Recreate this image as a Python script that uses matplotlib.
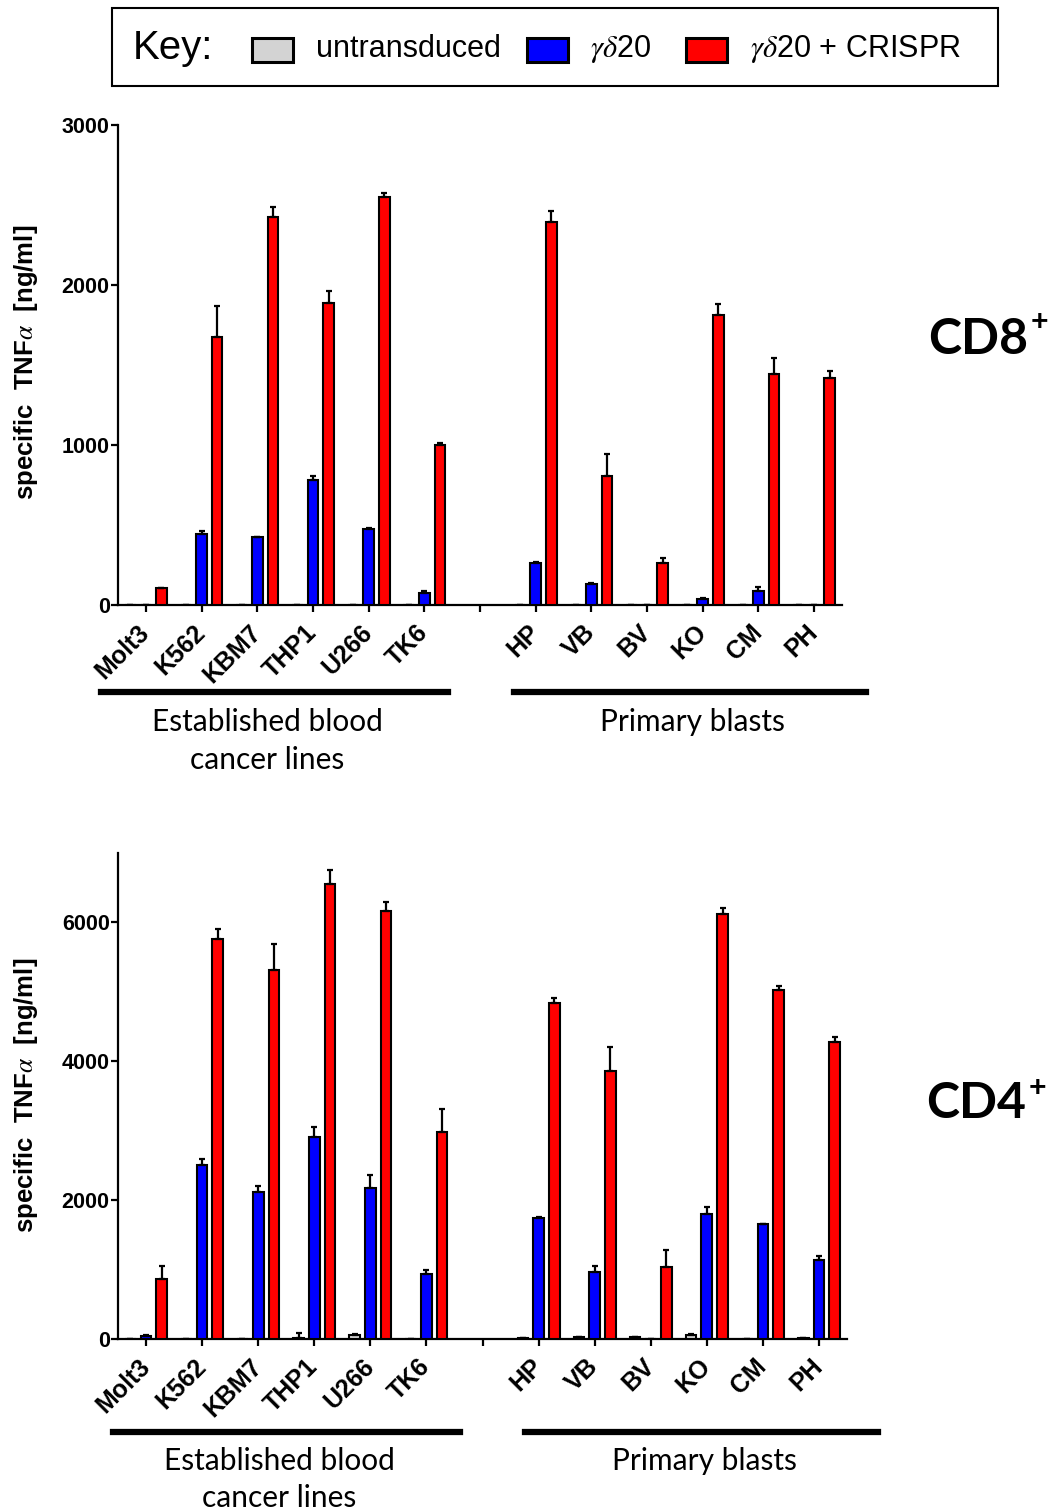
import numpy as np
import matplotlib
matplotlib.use('Agg')
import matplotlib.pyplot as plt
from matplotlib.patches import Rectangle
from matplotlib.lines import Line2D

plt.rcParams['mathtext.fontset'] = 'stix'

# ---------------- data ----------------
established = ['Molt3', 'K562', 'KBM7', 'THP1', 'U266', 'TK6']
primary = ['HP', 'VB', 'BV', 'KO', 'CM', 'PH']
series_names = ['untransduced', r'$\gamma\delta$20', r'$\gamma\delta$20 + CRISPR']
colors = ['#d3d3d3', '#0000ff', '#ff0000']

# CD8+ (specific TNFa, ng/ml)
cd8_untr = [0, 0, 0, 0, 0, 0, 0, 0, 0, 0, 0, 0]
cd8_untr_err = [0, 0, 0, 0, 0, 0, 0, 0, 0, 0, 0, 0]
cd8_gd20 = [0, 443, 422, 780, 475, 74, 265, 131, 0, 35, 88, 0]
cd8_gd20_err = [0, 20, 5, 25, 5, 15, 6, 5, 0, 6, 22, 0]
cd8_crispr = [105, 1677, 2426, 1888, 2553, 998, 2396, 808, 265, 1812, 1442, 1417]
cd8_crispr_err = [3, 190, 63, 72, 25, 15, 69, 136, 31, 69, 104, 48]

# CD4+
cd4_untr = [5, 5, 5, 20, 58, 5, 15, 29, 29, 62, 5, 10]
cd4_untr_err = [0, 0, 0, 60, 10, 0, 0, 0, 0, 10, 0, 0]
cd4_gd20 = [50, 2499, 2115, 2906, 2168, 930, 1741, 969, 5, 1799, 1655, 1137]
cd4_gd20_err = [10, 96, 86, 149, 187, 58, 19, 86, 0, 105, 0, 52]
cd4_crispr = [858, 5760, 5319, 6556, 6168, 2978, 4834, 3861, 1041, 6115, 5022, 4283]
cd4_crispr_err = [190, 144, 369, 202, 124, 336, 72, 350, 240, 86, 57, 72]

W, H = 1062, 1512
fig = plt.figure(figsize=(W / 100, H / 100), dpi=100)

def fx(px):
    return px / W

def fy(py):
    return 1 - py / H

labels = established + primary
pos = np.r_[np.arange(len(established)), np.arange(len(established) + 1, len(labels) + 1)]
all_ticks = np.arange(len(labels) + 1)
tick_labels = established + [''] + primary

TICKFONT = 'Liberation Sans'
offsets = [-0.28, 0.0, 0.28]
bw = 0.19

def draw_panel(rect, data, errs, ymax, yticks):
    ax = fig.add_axes(rect)
    for k in range(3):
        ax.bar(pos + offsets[k], data[k], width=bw, color=colors[k],
               edgecolor='black', linewidth=1.5,
               yerr=[np.zeros(len(errs[k])), errs[k]],
               error_kw=dict(elinewidth=1.6, capsize=2.5, capthick=1.6, ecolor='black'),
               zorder=3)
    ax.set_xlim(-0.5, len(labels) + 0.5)
    ax.set_ylim(0, ymax)
    ax.set_yticks(yticks)
    ax.set_yticklabels([str(v) for v in yticks], fontsize=15.5, fontweight='bold', family=TICKFONT)
    ax.set_xticks(all_ticks)
    ax.set_xticklabels(tick_labels, rotation=45, ha='right', va='center',
                       rotation_mode='anchor', fontsize=18, fontweight='bold', family=TICKFONT)
    for s in ['top', 'right']:
        ax.spines[s].set_visible(False)
    for s in ['left', 'bottom']:
        ax.spines[s].set_linewidth(1.6)
    ax.tick_params(axis='both', width=1.6, length=5, direction='out')
    ax.tick_params(axis='x', pad=12)
    ax.tick_params(axis='y', pad=1)
    ax.set_ylabel(r'specific  TNF$\alpha$  [ng/ml]', fontsize=18.5, fontweight='bold',
                  family=TICKFONT)
    return ax

ax1 = draw_panel([fx(118), fy(605), fx(842 - 118), (605 - 125) / H],
                 [cd8_untr, cd8_gd20, cd8_crispr],
                 [cd8_untr_err, cd8_gd20_err, cd8_crispr_err],
                 3000, [0, 1000, 2000, 3000])
ax1.yaxis.set_label_coords((40 - 118) / (842 - 118), (605 - 362) / (605 - 125))

ax2 = draw_panel([fx(118), fy(1339), fx(847 - 118), (1339 - 853) / H],
                 [cd4_untr, cd4_gd20, cd4_crispr],
                 [cd4_untr_err, cd4_gd20_err, cd4_crispr_err],
                 7000, [0, 2000, 4000, 6000])
ax2.yaxis.set_label_coords((40 - 118) / (847 - 118), (1339 - 1095) / (1339 - 853))

# group bars and labels
GFONT = 'Lato'
def group(x0, x1, y, cx, text_lines, ty, dy):
    fig.add_artist(Line2D([fx(x0), fx(x1)], [fy(y), fy(y)], color='black', lw=4.5,
                          transform=fig.transFigure))
    for i, t in enumerate(text_lines):
        fig.text(fx(cx), fy(ty + i * dy), t, ha='center', va='center', fontsize=21.5,
                 family=GFONT)

group(101, 448, 692, 267, ['Established blood', 'cancer lines'], 722, 38)
group(514, 866, 692, 692, ['Primary blasts'], 722, 38)
group(113, 460, 1432, 279, ['Established blood', 'cancer lines'], 1461, 37)
group(525, 878, 1432, 704, ['Primary blasts'], 1461, 37)

# CD8+ / CD4+ labels
fig.text(fx(928), fy(340), 'CD8', ha='left', va='center', fontsize=36, fontweight='bold', family=GFONT)
fig.text(fx(1031), fy(322), '+', ha='left', va='center', fontsize=22, fontweight='bold', family=GFONT)
fig.text(fx(926), fy(1104), 'CD4', ha='left', va='center', fontsize=36, fontweight='bold', family=GFONT)
fig.text(fx(1029), fy(1088), '+', ha='left', va='center', fontsize=22, fontweight='bold', family=GFONT)

# Key box
LFONT = 'Liberation Sans'
fig.add_artist(Rectangle((fx(112), fy(86)), fx(998 - 112), (86 - 8) / H, fill=False,
                         edgecolor='black', lw=1.5, transform=fig.transFigure))
fig.text(fx(133), fy(48), 'Key:', ha='left', va='center', fontsize=29, family=LFONT)
box_x = [252, 527, 686]
text_x = [316, 590, 750]
for k in range(3):
    fig.add_artist(Rectangle((fx(box_x[k]), fy(62)), fx(41), 24 / H, facecolor=colors[k],
                             edgecolor='black', lw=2.2, transform=fig.transFigure))
    fig.text(fx(text_x[k]), fy(49), series_names[k], ha='left', va='center', fontsize=22,
             family=LFONT)

fig.savefig('out.png', dpi=100)
